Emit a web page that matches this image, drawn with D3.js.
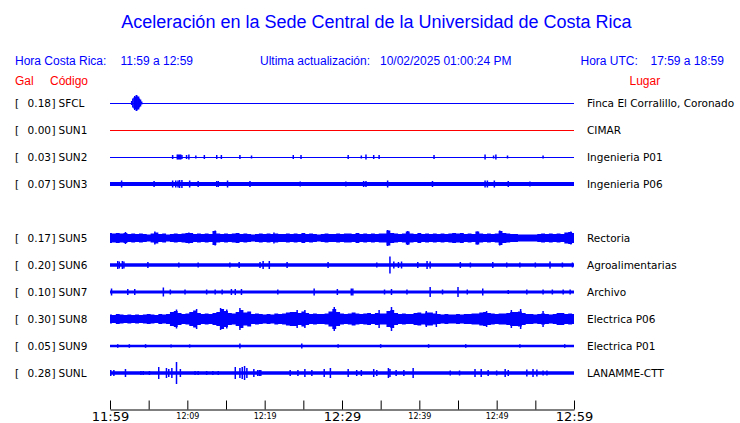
<!DOCTYPE html>
<html><head><meta charset="utf-8">
<script src="https://cdn.jsdelivr.net/npm/d3@7"></script>
<style>
html,body{margin:0;padding:0;background:#fff;}
svg{display:block;}
</style></head>
<body>
<svg id="chart" width="740" height="423"></svg>
<script>
// ---------------- DATA ----------------
const titleText = "Aceleración en la Sede Central de la Universidad de Costa Rica";
const localRange = "11:59 a 12:59";
const utcRange = "17:59 a 18:59";
const updated = "10/02/2025 01:00:24 PM";

const slotOrder = ["SFCL","SUN1","SUN2","SUN3","SUN4","SUN5","SUN6","SUN7","SUN8","SUN9","SUNL"];
const codes  = ["SFCL","SUN1","SUN2","SUN3","SUN5","SUN6","SUN7","SUN8","SUN9","SUNL"];
const galValues = [0.18,0.00,0.03,0.07,0.17,0.20,0.10,0.30,0.05,0.28];
const places = ["Finca El Corralillo, Coronado","CIMAR","Ingenieria P01","Ingenieria P06","Rectoria","Agroalimentarias","Archivo","Electrica P06","Electrica P01","LANAMME-CTT"];
// background noise half-amplitude (relative units) for each station
const baseAmp = [0.5,0.5,0.5,2,0,1.7,1.6,0,1.2,1.7];

const tickMinutes = [0,5,10,15,20,25,30,35,40,45,50,55,60];
const tickLabels = {0:"11:59",10:"12:09",20:"12:19",30:"12:29",40:"12:39",50:"12:49",60:"12:59"};
const majorLabels = [0,30,60];

// envelopes sampled every 0.5 minute (t = 0 .. 60)
const sun5Env = [5,4.5,5,4.5,5, 4,4.5,4,4.5,4,3.5,4.5, 5.5, 4,4.5,3.5,4,4.5,4,4.5, 5,5, 4,4.5,4,4.5,4, 7,
  4.5,4,4.5,4,4.5,5, 4,4.5,4,3.5,4,4.5,4,4.5,4, 4.5,4, 4,4.5,4,4.5,4, 5,
  4,4.5,4,3.5,4,4.5,4,4,4.5,4,4.5, 4.5,4,5, 4,4.5,4,4.5,4,4.5,4.5, 7.5, 5,4.5,4,4.5, 6.5, 4.5,4, 5,
  4,4.5,4,4.5,4,4.5,4,4.5, 5,4.5,5, 4,4.5,4, 6.5, 4.5,4,4.5,4,4.5, 7, 5,4.5,4,4,
  3.5,3.5,3.5,3.5,3.5, 4,4.5,4,4.5,4,4.5,4, 5.5,6,5];
const sun8Env = [4.5,4,5,4.5,4,4.5,4,4.5, 4,4.5,5,4.5,4,5,4.5,5, 7,8,6, 5,5.5, 7,8.5,6, 5,5.5,5,6,
  7,10,8,6, 5.5,7,9,6.5,7.5, 5,5.5,5,4.5,5,4.5, 5.5,5,5.5,6.5,7,7,6,7.5,6,
  5,5.5,5,5,5.5, 7.5,10,7, 5.5,5,5.5, 6.5,5.5,5,5.5,6,5,6,5.5,5.5, 8,9,6, 5,5.5,5,5,
  6,6.5,5.5,6.5,6.5,5.5, 5,4.5,5,4.5,4.5,5,4.5, 5,5,5.5,5.5, 6.5,7,6,5.5, 5,5.5,5.5,6,
  7,7,7.5,6, 5,5,4.5,5, 5.5,5,4.5,5,6,6,5,5.5,5];

// spikes: [minute, half-amplitude]
const sfclSpikes = [[2.8,2],[2.95,4.5],[3.1,5.5],[3.2,7],[3.3,6],[3.4,8],[3.5,7.5],[3.6,6],[3.7,6.5],[3.8,4.5],[3.95,3.5],[4.1,1.5]];
const sun1Spikes = [];
const sun2Spikes = [[8.1,2],[8.7,2.5],[8.85,2.5],[9.0,2.5],[9.15,2.5],[9.3,2],[9.9,2],[10.2,2.5],[11.1,1.5],[12.2,2],[13.8,2],[14.4,2],[16.8,2],[18.3,1.5],[23.7,2],[24.7,2],[30.8,2],[32.5,1.5],[33.1,2.5],[34.1,2],[34.8,2],[41.9,2],[48.5,2.5],[49.6,1.5],[49.9,2.5],[51.4,1.5],[56.0,1.5]];
const sun3Spikes = [[1.5,3.5],[5.7,3],[8.1,3.5],[8.5,3.5],[8.8,3.5],[9.0,4],[9.3,4],[10.3,3.5],[11.4,3],[13.8,3],[14.0,3],[15.2,3.5],[18.1,3],[24.6,2.5],[30.5,2.5],[32.8,3],[33.1,3],[35.9,3.5],[41.7,3],[48.5,3.5],[48.8,3.5],[49.7,3.5],[51.5,3],[54.3,2.5]];
const sun5Spikes = [[2.0,6],[5.8,6.5],[10.2,5.5],[13.6,7.5],[21.2,5.5],[35.9,8],[38.5,7],[47.5,6.5],[50.4,7.5],[59.6,6.5]];
const sun6Spikes = [[1.0,4],[1.2,3.5],[1.6,4],[1.8,3.5],[4.9,3],[8.9,2.5],[11.4,2.5],[15.5,2.5],[16.7,3],[19.4,3],[19.8,4],[20.6,4],[22.9,3],[28.2,3],[34.5,2.5],[36.2,8.5],[36.7,3.5],[37.3,3],[37.7,3.5],[39.8,3],[41.0,4],[41.4,3.5],[45.3,3],[46.6,2.5],[49.5,3],[51.3,2.5],[53.0,2.5],[55.0,2.5],[56.9,3.5],[58.5,2.5],[59.8,2.5]];
const sun7Spikes = [[0.2,3.5],[2.3,3],[3.2,3],[6.9,4.5],[7.8,2.5],[9.7,2.5],[12.5,2.5],[13.6,2.5],[14.5,2.5],[15.7,3],[16.2,3],[17.0,3],[21.7,2.5],[26.4,3.5],[29.4,3],[31.2,3.5],[31.4,3.5],[35.5,2.5],[36.4,3],[38.4,2.5],[41.4,5],[43.0,2.5],[45.0,5],[46.2,2.5],[48.2,3.5],[51.5,2],[53.9,2.5],[56.0,2.5],[57.2,2.5],[58.6,2.5],[59.5,2.5]];
const sun8Spikes = [[8.6,9.5],[11.2,10],[14.3,11],[15.1,9.5],[16.8,11],[24.2,9],[25.2,9],[29.0,12],[34.8,9],[36.4,12],[40.9,8],[42.2,8],[48.7,8],[51.9,9],[53.1,10],[56.0,8]];
const sun9Spikes = [[1.0,1.8],[2.5,1.8],[4.6,1.8],[7.9,1.6],[10.3,1.6],[16.8,2.5],[24.8,2.5],[29.5,1.8],[35.0,1.8],[41.2,1.8],[46.0,1.8],[53.0,1.8],[58.8,1.8]];
const sunlSpikes = [[0.1,3],[0.5,3],[2.0,4],[4.0,2],[4.3,2],[5.1,2],[6.3,6],[7.3,5],[7.6,4],[8.0,5],[8.6,11],[9.1,4],[11.0,2],[11.4,2],[12.5,2],[13.3,2],[14.0,2],[16.2,6],[16.8,5],[17.1,6],[17.4,7],[17.7,5],[18.6,4],[19.1,3],[19.3,3],[19.5,3],[23.3,3],[24.3,3],[25.2,4],[26.1,3],[27.7,4],[28.5,5],[30.8,4],[31.9,3],[32.5,3],[34.1,4],[34.5,3],[36.0,5],[36.2,4],[37.0,3],[38.0,3],[39.2,5],[44.0,2.5],[45.2,2.5],[47.2,4],[48.0,4],[48.9,3],[50.0,2.5],[51.1,4],[51.5,3],[53.9,3.5],[54.7,4],[55.2,3.5],[56.0,2.5],[56.5,2.5]];

const spikesByStation = [sfclSpikes,sun1Spikes,sun2Spikes,sun3Spikes,sun5Spikes,sun6Spikes,sun7Spikes,sun8Spikes,sun9Spikes,sunlSpikes];
const envByStation = {SUN5: sun5Env, SUN8: sun8Env};

// ---------------- DRAW ----------------
const svg = d3.select("#chart");
const BLUE = "#0000ff", RED = "#ff0000";
const SANS = "'Liberation Sans', Arial, sans-serif";
const DV = "'DejaVu Sans', sans-serif";

const x = d3.scaleLinear().domain([0,60]).range([110,574]);
const yRow = d3.scalePoint().domain(slotOrder).range([103,373]);
const amp = d3.scaleLinear().domain([-12,12]).range([12,-12]);

// header
svg.append("text").attr("x",376.5).attr("y",28).attr("text-anchor","middle")
  .attr("font-family",SANS).attr("font-size",18).attr("fill",BLUE).text(titleText);
const hdr = [[15,"Hora Costa Rica:"],[120.5,localRange],[260,"Ultima actualización:"],[380,updated],[580.5,"Hora UTC:"],[650.5,utcRange]];
hdr.forEach(([hx,t]) => svg.append("text").attr("x",hx).attr("y",65).attr("font-family",SANS)
  .attr("font-size",12).attr("fill",BLUE).text(t));
[[15,"Gal"],[50,"Código"],[629.5,"Lugar"]].forEach(([hx,t]) => svg.append("text").attr("x",hx).attr("y",85)
  .attr("font-family",SANS).attr("font-size",12).attr("fill",RED).text(t));

// rows
codes.forEach((code,i) => {
  const cy = yRow(code);
  const g = svg.append("g").attr("transform",`translate(0,${cy})`);
  const col = code === "SUN1" ? RED : BLUE;
  // labels
  const lab = svg.append("g").attr("font-family",DV).attr("font-size",10.5).attr("fill","#000");
  lab.append("text").attr("x",15).attr("y",cy+4).text("[");
  lab.append("text").attr("x",51).attr("y",cy+4).attr("text-anchor","end").text(galValues[i].toFixed(2));
  lab.append("text").attr("x",51.5).attr("y",cy+4).text("]");
  lab.append("text").attr("x",58.5).attr("y",cy+4).text(code);
  lab.append("text").attr("x",587).attr("y",cy+4).text(places[i]);

  // envelope / background band
  const env = envByStation[code];
  if (env) {
    const pts = env.map((a,k) => ({t: k*0.5, a}));
    g.append("path").datum(pts)
      .attr("d", d3.area().x(d=>x(d.t)).y0(d=>amp(-d.a)).y1(d=>amp(d.a)).curve(d3.curveStep))
      .attr("fill",col);
  } else if (baseAmp[i] <= 0.5) {
    g.append("line").attr("x1",x(0)).attr("x2",x(60)).attr("y1",0.5).attr("y2",0.5)
      .attr("stroke",col).attr("stroke-width",1).attr("shape-rendering","crispEdges");
  } else {
    const pts = [{t:0,a:baseAmp[i]},{t:60,a:baseAmp[i]}];
    g.append("path").datum(pts)
      .attr("d", d3.area().x(d=>x(d.t)).y0(d=>amp(-d.a)).y1(d=>amp(d.a)))
      .attr("fill",col);
  }
  // spikes
  g.selectAll("line.sp").data(spikesByStation[i]).enter().append("line")
    .attr("class","sp")
    .attr("x1",d=>x(d[0])).attr("x2",d=>x(d[0]))
    .attr("y1",d=>amp(d[1])).attr("y2",d=>amp(-(d.length>2?d[2]:d[1])))
    .attr("stroke",col).attr("stroke-width",1.5);
});

// time axis
const axis = d3.axisBottom(x).tickValues(tickMinutes).tickSizeInner(-9).tickSizeOuter(0)
  .tickFormat(m => tickLabels[m] || "");
const ax = svg.append("g").attr("transform","translate(0,409.5)").call(axis);
ax.select(".domain").attr("stroke","#000");
ax.selectAll(".tick line").attr("stroke","#000");
ax.selectAll(".tick text")
  .attr("fill","#000")
  .attr("font-family",DV)
  .attr("dy",null)
  .attr("y", m => majorLabels.includes(m) ? 11.5 : 9.5)
  .attr("font-size", m => majorLabels.includes(m) ? 13 : 8);
</script>
</body></html>
